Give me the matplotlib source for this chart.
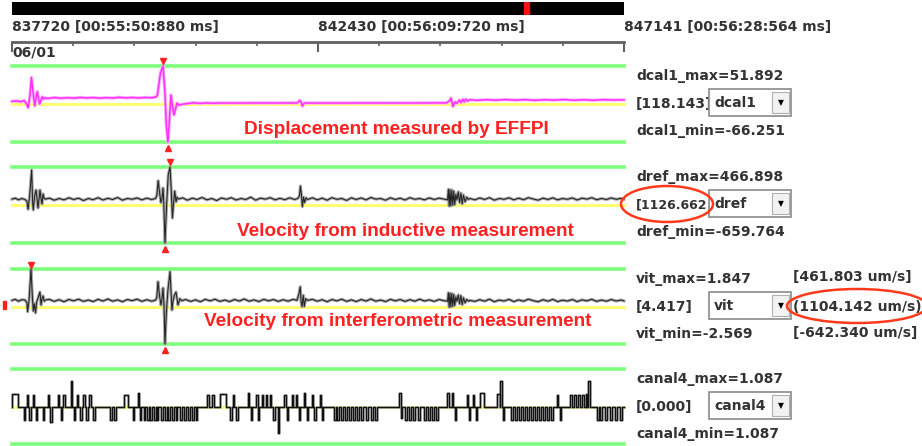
import numpy as np
import matplotlib
matplotlib.use('Agg')
import matplotlib.pyplot as plt
from matplotlib.patches import Rectangle, Ellipse

# window shown (sample numbers, one sample every 4 ms)
start_sample = 837720
end_sample = 847141
sample_ms = 4
overview_mark = (0.837, 0.845)  # red cursor in the overview bar (fraction of file)

# channel info as printed on the right
chan_names = ['dcal1', 'dref', 'vit', 'canal4']
chan_max = [51.892, 466.898, 1.847, 1.087]
chan_min = [-66.251, -659.764, -2.569, 1.087]
chan_cursor = ['118.143', '1126.662', '4.417', '0.000']
vit_um = ['[461.803 um/s]', '(1104.142 um/s)', '[-642.340 um/s]']
notes = ['Displacement measured by EFFPI',
         'Velocity from inductive measurement',
         'Velocity from interferometric measurement']

# traces: (seconds from window start, value)
dcal1_pts = [
    (0.00, -3.0), (0.30, -2.5), (0.55, -3.5), (0.75, -2.0), (0.92, -8.0), (0.99, -13.0),
    (1.10, 5.0), (1.20, 34.0), (1.30, 10.0), (1.40, -10.0), (1.50, 5.0), (1.56, 12.0),
    (1.64, 0.0), (1.70, -7.0), (1.80, 0.0), (1.86, 4.0), (1.95, 0.5), (2.05, 2.5),
    (2.20, 1.5), (2.60, 2.8), (3.00, 1.8), (3.40, 2.6), (3.80, 2.0), (4.20, 3.0),
    (4.60, 2.2), (5.00, 2.8), (5.40, 1.9), (5.80, 2.7), (6.20, 2.1), (6.60, 3.2),
    (7.00, 2.4), (7.40, 2.9), (7.80, 2.2), (8.20, 3.0), (8.60, 2.5), (8.85, 3.5),
    (8.95, 6.0), (9.05, 25.0), (9.15, 42.0), (9.30, 51.892), (9.42, 10.0), (9.50, -40.0),
    (9.60, -66.251), (9.70, -30.0), (9.79, 6.8), (9.88, -10.0), (9.97, -24.0), (10.10, -12.0),
    (10.16, -5.8), (10.30, -9.0), (10.50, -7.5), (10.80, -6.5), (11.20, -5.2), (11.60, -6.2),
    (12.00, -5.4), (12.40, -6.0), (12.80, -5.6), (13.50, -5.6),
    (17.55, -5.5), (17.65, -3.5), (17.72, -1.5), (17.80, -4.0), (17.88, -10.5), (17.98, -6.0),
    (18.10, -5.6), (26.75, -5.5),
    (26.95, -2.0), (27.03, 2.0), (27.15, -11.0), (27.28, -4.0), (27.40, -6.0), (27.55, -1.0),
    (27.65, -5.0), (27.75, 0.0), (27.85, -4.0), (27.95, 0.5), (28.05, -2.5), (28.20, -0.5),
    (28.60, -1.5), (29.20, -0.5), (29.80, -1.3), (30.40, -0.3), (31.00, -1.2), (31.60, -0.4),
    (32.20, -1.5), (32.80, -0.5), (33.40, -1.2), (34.00, -0.3), (34.60, -1.3), (35.20, -0.6),
    (35.80, -1.4), (36.40, -0.5), (37.00, -1.0), (37.68, -0.8)]

dref_pts = [
    (0.00, -10), (0.20, 5), (0.40, -20), (0.60, 0), (0.80, -15),
    (0.92, -40), (0.99, -160), (1.08, 20), (1.21, 422), (1.27, -50), (1.31, -170),
    (1.40, 40), (1.48, 126), (1.55, -20), (1.60, -141), (1.68, 20), (1.72, 126),
    (1.80, -20), (1.85, -82), (1.91, 67), (1.98, 0), (2.05, -10),
    (2.30, 5), (2.60, -25), (2.90, 0), (3.20, -20), (3.50, 10), (3.80, -15), (4.10, 5),
    (4.40, -30), (4.70, 0), (5.00, -18), (5.30, 12), (5.60, -22), (5.90, 3), (6.20, -15),
    (6.50, 15), (6.80, -25), (7.10, 0), (7.40, -12), (7.70, 8), (8.00, -20), (8.30, 5),
    (8.60, -15), (8.85, 0),
    (8.92, 50), (9.00, 264), (9.08, 100), (9.17, -60), (9.24, 0), (9.30, 156), (9.35, -100),
    (9.42, -659.764), (9.52, -100), (9.62, 350), (9.73, 466.898), (9.79, 200), (9.88, -290),
    (9.95, -60), (10.02, 110), (10.10, -50), (10.16, 20), (10.25, -10),
    (10.50, 10), (10.80, -25), (11.10, 5), (11.40, -15), (11.70, 15), (12.00, -20), (12.30, 0),
    (12.60, -30), (12.90, 8), (13.20, -12), (13.50, 12), (13.80, -22), (14.10, 0), (14.40, -15),
    (14.70, 20), (15.00, -25), (15.30, 5), (15.60, -10), (15.90, 12), (16.20, -20), (16.50, 3),
    (16.80, -18), (17.10, 10), (17.40, -15), (17.60, 0),
    (17.70, 40), (17.76, 185), (17.82, 60), (17.88, -122), (17.95, 20), (18.02, -60),
    (18.10, 10), (18.20, -15),
    (18.50, 10), (18.80, -20), (19.10, 5), (19.40, -25), (19.70, 12), (20.00, -12), (20.30, 0),
    (20.60, -28), (20.90, 10), (21.20, -15), (21.50, 8), (21.80, -20), (22.10, 15), (22.40, -10),
    (22.70, 0), (23.00, -25), (23.30, 10), (23.60, -15), (23.90, 5), (24.20, -22), (24.50, 12),
    (24.80, -12), (25.10, 0), (25.40, -20), (25.70, 8), (26.00, -15), (26.30, 5), (26.60, -10),
    (26.82, -20), (26.87, 136), (26.92, -112), (26.97, 130), (27.02, -110), (27.08, 125),
    (27.14, -100), (27.20, 110), (27.26, -90), (27.33, 60), (27.40, -20), (27.48, 100),
    (27.56, -60), (27.64, 80), (27.72, -80), (27.80, 50), (27.90, -50), (28.00, 20),
    (28.10, -15), (28.20, 0),
    (28.50, -20), (28.80, 8), (29.10, -15), (29.40, 12), (29.70, -25), (30.00, 0), (30.30, -12),
    (30.60, 10), (30.90, -20), (31.20, 5), (31.50, -18), (31.80, 12), (32.10, -8), (32.40, -25),
    (32.70, 5), (33.00, -15), (33.30, 10), (33.60, -20), (33.90, 0), (34.20, -12), (34.50, 8),
    (34.80, -22), (35.10, 5), (35.40, -10), (35.70, 12), (36.00, -18), (36.30, 0), (36.60, -15),
    (36.90, 8), (37.20, -12), (37.50, 2), (37.68, -10)]

vit_pts = [
    (0.00, 0.0), (0.20, 0.06), (0.40, -0.05), (0.60, 0.04), (0.80, 0.02),
    (0.92, -0.15), (0.96, -0.67), (1.05, 0.0), (1.17, 1.847), (1.25, 0.3), (1.31, -0.63),
    (1.38, -0.2), (1.45, -0.74), (1.52, -0.1), (1.62, 0.2), (1.72, 0.49), (1.79, -0.27),
    (1.85, 0.1), (1.91, 0.26), (1.98, -0.05), (2.05, 0.02),
    (2.30, 0.06), (2.60, -0.06), (2.90, 0.04), (3.20, -0.08), (3.50, 0.05), (3.80, -0.03),
    (4.10, 0.07), (4.40, -0.06), (4.70, 0.02), (5.00, -0.07), (5.30, 0.06), (5.60, -0.04),
    (5.90, 0.08), (6.20, -0.05), (6.50, 0.03), (6.80, -0.08), (7.10, 0.05), (7.40, -0.02),
    (7.70, 0.07), (8.00, -0.06), (8.30, 0.04), (8.60, -0.05), (8.85, 0.02),
    (8.92, 0.2), (8.99, 1.10), (9.08, 0.3), (9.17, -0.27), (9.24, 0.1), (9.30, 0.73),
    (9.36, -0.3), (9.42, -2.569), (9.50, -0.8), (9.60, 0.6), (9.73, 1.69), (9.79, 0.5),
    (9.85, -0.57), (9.92, 0.0), (10.00, 0.3), (10.10, 0.49), (10.22, -0.27), (10.34, 0.1),
    (10.45, -0.02),
    (10.70, 0.05), (11.00, -0.06), (11.30, 0.03), (11.60, -0.08), (11.90, 0.06), (12.20, -0.03),
    (12.50, 0.07), (12.80, -0.06), (13.10, 0.02), (13.40, -0.07), (13.70, 0.05), (14.00, -0.04),
    (14.30, 0.08), (14.60, -0.05), (14.90, 0.03), (15.20, -0.07), (15.50, 0.06), (15.80, -0.03),
    (16.10, 0.05), (16.40, -0.06), (16.70, 0.04), (17.00, -0.05), (17.30, 0.06), (17.55, 0.0),
    (17.68, 0.45), (17.75, 0.80), (17.80, -0.1), (17.86, -0.37), (17.93, 0.3), (18.00, -0.35),
    (18.08, 0.1), (18.20, 0.0),
    (18.50, 0.06), (18.80, -0.05), (19.10, 0.04), (19.40, -0.08), (19.70, 0.05), (20.00, -0.03),
    (20.30, 0.07), (20.60, -0.06), (20.90, 0.03), (21.20, -0.07), (21.50, 0.05), (21.80, -0.04),
    (22.10, 0.08), (22.40, -0.05), (22.70, 0.02), (23.00, -0.07), (23.30, 0.06), (23.60, -0.03),
    (23.90, 0.05), (24.20, -0.06), (24.50, 0.04), (24.80, -0.05), (25.10, 0.07), (25.40, -0.04),
    (25.70, 0.03), (26.00, -0.06), (26.30, 0.05), (26.60, -0.02),
    (26.82, -0.05), (26.87, 0.45), (26.92, -0.40), (26.97, 0.42), (27.02, -0.38), (27.08, 0.40),
    (27.14, -0.35), (27.20, 0.35), (27.26, -0.30), (27.33, 0.2), (27.40, -0.05), (27.48, 0.32),
    (27.56, -0.2), (27.64, 0.28), (27.72, -0.25), (27.80, 0.15), (27.90, -0.15), (28.00, 0.06),
    (28.10, -0.05), (28.20, 0.0),
    (28.50, -0.06), (28.80, 0.04), (29.10, -0.05), (29.40, 0.07), (29.70, -0.08), (30.00, 0.02),
    (30.30, -0.04), (30.60, 0.06), (30.90, -0.07), (31.20, 0.03), (31.50, -0.05), (31.80, 0.07),
    (32.10, -0.02), (32.40, -0.08), (32.70, 0.04), (33.00, -0.05), (33.30, 0.06), (33.60, -0.07),
    (33.90, 0.01), (34.20, -0.04), (34.50, 0.05), (34.80, -0.07), (35.10, 0.03), (35.40, -0.03),
    (35.70, 0.06), (36.00, -0.06), (36.30, 0.02), (36.60, -0.05), (36.90, 0.05), (37.20, -0.04),
    (37.50, 0.02), (37.68, -0.03)]

# canal4 digital pulses: start (s), duration (s), level
canal4_start = [
    0.03, 0.71, 0.95, 1.05, 1.29, 1.48, 1.91, 2.22, 2.37, 2.83, 3.02, 3.17, 3.63, 3.82, 4.00,
    4.19, 4.37, 4.56, 4.74, 4.99, 6.04, 6.28, 6.90, 7.45, 7.76, 7.88, 8.13, 8.32, 8.50, 8.75,
    8.93, 9.18, 9.42, 9.61, 9.86, 10.10, 10.35, 10.60, 10.84, 11.09, 11.33, 12.01, 12.32, 12.81,
    13.43, 13.61, 13.80, 14.54, 14.72, 15.03, 15.15, 15.40, 15.65, 15.89, 16.08, 16.39, 16.76,
    16.94, 17.25, 17.49, 17.68, 17.99, 18.17, 18.48, 18.60, 18.97, 19.10, 19.84, 20.02, 20.27,
    20.51, 20.76, 21.01, 21.25, 21.50, 21.81, 22.11, 22.36, 23.84, 23.96, 24.21, 24.45, 24.70,
    25.01, 25.38, 25.63, 25.87, 26.12, 26.80, 27.10, 27.29, 28.03, 28.15, 28.40, 28.58, 28.83,
    29.88, 30.06, 30.25, 30.74, 30.98, 31.23, 31.48, 31.72, 31.97, 32.22, 32.46, 32.71, 32.96,
    33.20, 33.57, 33.76, 34.37, 34.62, 34.87, 35.11, 35.35, 35.48, 36.03, 36.22, 36.53, 36.84,
    37.14, 37.45]
canal4_dur = [
    0.35, 0.09, 0.06, 0.09, 0.06, 0.06, 0.09, 0.06, 0.12, 0.09, 0.06, 0.09, 0.06, 0.09, 0.06,
    0.12, 0.12, 0.12, 0.12, 0.09, 0.12, 0.15, 0.25, 0.06, 0.06, 0.06, 0.09, 0.09, 0.09, 0.09,
    0.09, 0.09, 0.12, 0.09, 0.12, 0.09, 0.12, 0.09, 0.12, 0.09, 0.09, 0.09, 0.09, 0.37,
    0.09, 0.06, 0.09, 0.06, 0.06, 0.09, 0.06, 0.06, 0.06, 0.06, 0.12, 0.06, 0.09,
    0.06, 0.06, 0.06, 0.06, 0.06, 0.06, 0.06, 0.09, 0.06, 0.06, 0.12, 0.12, 0.12,
    0.12, 0.12, 0.12, 0.12, 0.12, 0.12, 0.12, 0.09, 0.09, 0.06, 0.09, 0.09, 0.09,
    0.09, 0.09, 0.09, 0.09, 0.09, 0.09, 0.06, 0.06, 0.06, 0.06, 0.06, 0.06, 0.25,
    0.15, 0.12, 0.06, 0.12, 0.12, 0.12, 0.12, 0.12, 0.12, 0.12, 0.12, 0.12, 0.12,
    0.12, 0.06, 0.06, 0.12, 0.12, 0.12, 0.12, 0.08, 0.12, 0.09, 0.09, 0.09, 0.09,
    0.09, 0.09]
canal4_level = [
    0.33, -0.35, 0.30, -0.35, 0.30, -0.35, -0.35, 0.30, -0.40, 0.30, -0.35, 0.30, 0.67, -0.35, 0.30,
    -0.35, 0.30, -0.35, 0.30, -0.35, -0.35, -0.35, 0.30, -0.35, 0.35, -0.35, -0.35, -0.35, -0.35, -0.35,
    -0.35, -0.35, -0.35, -0.35, -0.35, -0.35, -0.35, -0.35, -0.35, -0.35, -0.35, 0.30, 0.30, 0.33,
    -0.35, 0.30, -0.35, 0.35, -0.35, 0.30, -0.35, 0.30, 0.30, 0.30, -0.35, -0.70, 0.30,
    -0.35, 0.30, 0.30, -0.35, 0.35, -0.35, 0.30, -0.35, 0.30, -0.35, -0.35, -0.35, -0.35,
    -0.35, -0.35, -0.35, -0.35, -0.35, -0.35, -0.35, -0.35, 0.35, -0.30, -0.35, -0.35, -0.35,
    -0.35, -0.35, -0.35, -0.35, -0.35, 0.35, 0.35, -0.35, 0.30, -0.35, 0.30, -0.35, 0.35,
    0.33, 0.67, -0.35, -0.35, -0.35, -0.35, -0.35, -0.35, -0.35, -0.35, -0.35, -0.35, -0.35,
    -0.35, 0.30, -0.35, 0.30, 0.30, 0.30, 0.30, 0.33, 0.67, -0.35, -0.35, -0.35, -0.35,
    -0.35, -0.35]

W, H = 922, 446
fig = plt.figure(figsize=(W / 100, H / 100), dpi=100)
fig.patch.set_facecolor('white')

GREEN = '#7dff7d'
YELLOW = '#ffff70'
RED = '#ff2020'
TXT = '#333333'
LEFT, WIDTH = 12, 612


def fx(x):
    return x / W


def fy(y):
    return 1 - y / H


def to_samples(t):
    return start_sample + np.asarray(t, dtype=float) * 1000 / sample_ms


def stamp(s):
    ms = s * sample_ms
    h, rem = divmod(ms, 3600000)
    m, rem = divmod(rem, 60000)
    sec, msec = divmod(rem, 1000)
    return f"{s} [{h:02d}:{m:02d}:{sec:02d}:{msec:03d} ms]"


def label(x, y, s, **kw):
    opts = dict(va='center', ha='left', fontsize=10, fontweight='bold', color=TXT,
                family='DejaVu Sans')
    opts.update(kw)
    return fig.text(fx(x), fy(y), s, **opts)


# overview bar
ax_bar = fig.add_axes([fx(LEFT), fy(15), WIDTH / W, 13 / H])
ax_bar.set_facecolor('black')
ax_bar.set_xlim(0, 1)
ax_bar.axvspan(*overview_mark, color='#ff1010')
ax_bar.set_xticks([])
ax_bar.set_yticks([])
for sp in ax_bar.spines.values():
    sp.set_visible(False)

# time ruler
mid_sample = (start_sample + end_sample) // 2
ax_r = fig.add_axes([fx(LEFT), fy(52), WIDTH / W, 10 / H])
ax_r.set_xlim(start_sample, end_sample)
ax_r.patch.set_visible(False)
for s in ['left', 'right', 'bottom']:
    ax_r.spines[s].set_visible(False)
ax_r.spines['top'].set_color('#606060')
ax_r.spines['top'].set_linewidth(2)
ax_r.set_yticks([])
ax_r.xaxis.tick_top()
major = [start_sample, mid_sample, end_sample]
ax_r.set_xticks(major)
ax_r.set_xticklabels([stamp(s) for s in major], ha='left', fontsize=10,
                     fontweight='bold', color=TXT)
ax_r.set_xticks(np.linspace(start_sample, end_sample, 11), minor=True)
ax_r.tick_params(which='major', direction='in', length=7, width=1.5, color='#606060', pad=6)
ax_r.tick_params(which='minor', direction='in', length=3, width=1.2, color='#606060')
label(12, 53, '06/01')

# channels
chan_px = [(66, 142), (167, 243), (269, 344), (369, 444)]
note_pos = [(396, 129), (405, 232), (398, 321)]
traces = [dcal1_pts, dref_pts, vit_pts]
trace_style = ['magenta', 'grey', 'grey']

for i, (yt, yb) in enumerate(chan_px):
    ax = fig.add_axes([fx(LEFT), fy(yb), WIDTH / W, (yb - yt) / H])
    ax.set_axis_off()
    ax.set_xlim(start_sample, end_sample)
    lo, hi = (chan_min[i], chan_max[i]) if i < 3 else (-1.0, 1.0)
    ax.set_ylim(lo, hi)
    span = hi - lo
    ax.axhline(hi, color=GREEN, lw=2.6, clip_on=False)
    ax.axhline(lo, color=GREEN, lw=2.6, clip_on=False)
    ax.axhline((lo + hi) / 2, color=YELLOW, lw=2.2, clip_on=False)

    if i < 3:
        t, v = zip(*traces[i])
        x = to_samples(t)
        v = np.array(v)
        if trace_style[i] == 'magenta':
            ax.plot(x, v, color='#ffb0ff', lw=2.4, clip_on=False)
            ax.plot(x, v, color='#ff30ff', lw=1.1, clip_on=False)
        else:
            ax.plot(x, v, color='#a8a8a8', lw=2.2, clip_on=False)
            ax.plot(x, v, color='#222222', lw=0.75, clip_on=False)
        ax.plot(x[np.argmax(v)], hi + 0.06 * span, marker='v', color=RED, ms=5,
                clip_on=False)
        ax.plot(x[np.argmin(v)], lo - 0.08 * span, marker='^', color=RED, ms=5,
                clip_on=False)
        cx, cy = note_pos[i]
        fig.text(fx(cx), fy(cy), notes[i], ha='center', va='center', color=RED,
                 fontsize=13.7, fontweight='bold', family='Liberation Sans')
    else:
        xs, ys = [start_sample], [0.0]
        for s, d, lv in zip(canal4_start, canal4_dur, canal4_level):
            a, b = to_samples([s, s + d])
            xs += [a, a, b, b]
            ys += [0.0, lv, lv, 0.0]
        xs.append(end_sample)
        ys.append(0.0)
        ax.plot(xs, ys, color='#9a9a9a', lw=1.8, clip_on=False)
        ax.plot(xs, ys, color='#111111', lw=0.9, clip_on=False)

    # right-hand readout
    name = chan_names[i]
    label(636, yt + 10, f"{name}_max={chan_max[i]:.3f}")
    if len(chan_cursor[i]) > 7:
        # long value runs into the combo box, whose edge cuts off the bracket
        label(636, yt + 38, f"[{chan_cursor[i]}", fontsize=9)
    else:
        label(636, yt + 38, f"[{chan_cursor[i]}]")
    label(636, yt + 65, f"{name}_min={chan_min[i]:.3f}")
    # combo box
    box = Rectangle((fx(709), fy(yt + 50)), 82 / W, 27 / H, transform=fig.transFigure,
                    facecolor='white', edgecolor='#8a8a8a', lw=1.2, zorder=4)
    fig.add_artist(box)
    btn = Rectangle((fx(772), fy(yt + 47)), 17 / W, 21 / H, transform=fig.transFigure,
                    facecolor='#f2f2f2', edgecolor='#b0b0b0', lw=0.8, zorder=4)
    fig.add_artist(btn)
    label(714, yt + 37, name, zorder=5)
    label(780.5, yt + 37, '\u25bc', fontsize=5.5, ha='center', color='black', zorder=5)

# vit readout in physical units
label(793, 277, vit_um[0])
label(793, 307, vit_um[1])
label(793, 333, vit_um[2])

# red annotations
fig.add_artist(Ellipse((fx(667), fy(204)), 92 / W, 36 / H, transform=fig.transFigure,
                       fill=False, edgecolor='#ff3a1a', lw=1.8, zorder=6))
fig.add_artist(Ellipse((fx(857), fy(306)), 140 / W, 34 / H, transform=fig.transFigure,
                       fill=False, edgecolor='#ff3a1a', lw=1.8, zorder=6))
fig.add_artist(Rectangle((fx(3), fy(309)), 3 / W, 8 / H, transform=fig.transFigure,
                         color=RED, zorder=6))

fig.savefig('out.png', dpi=100)
